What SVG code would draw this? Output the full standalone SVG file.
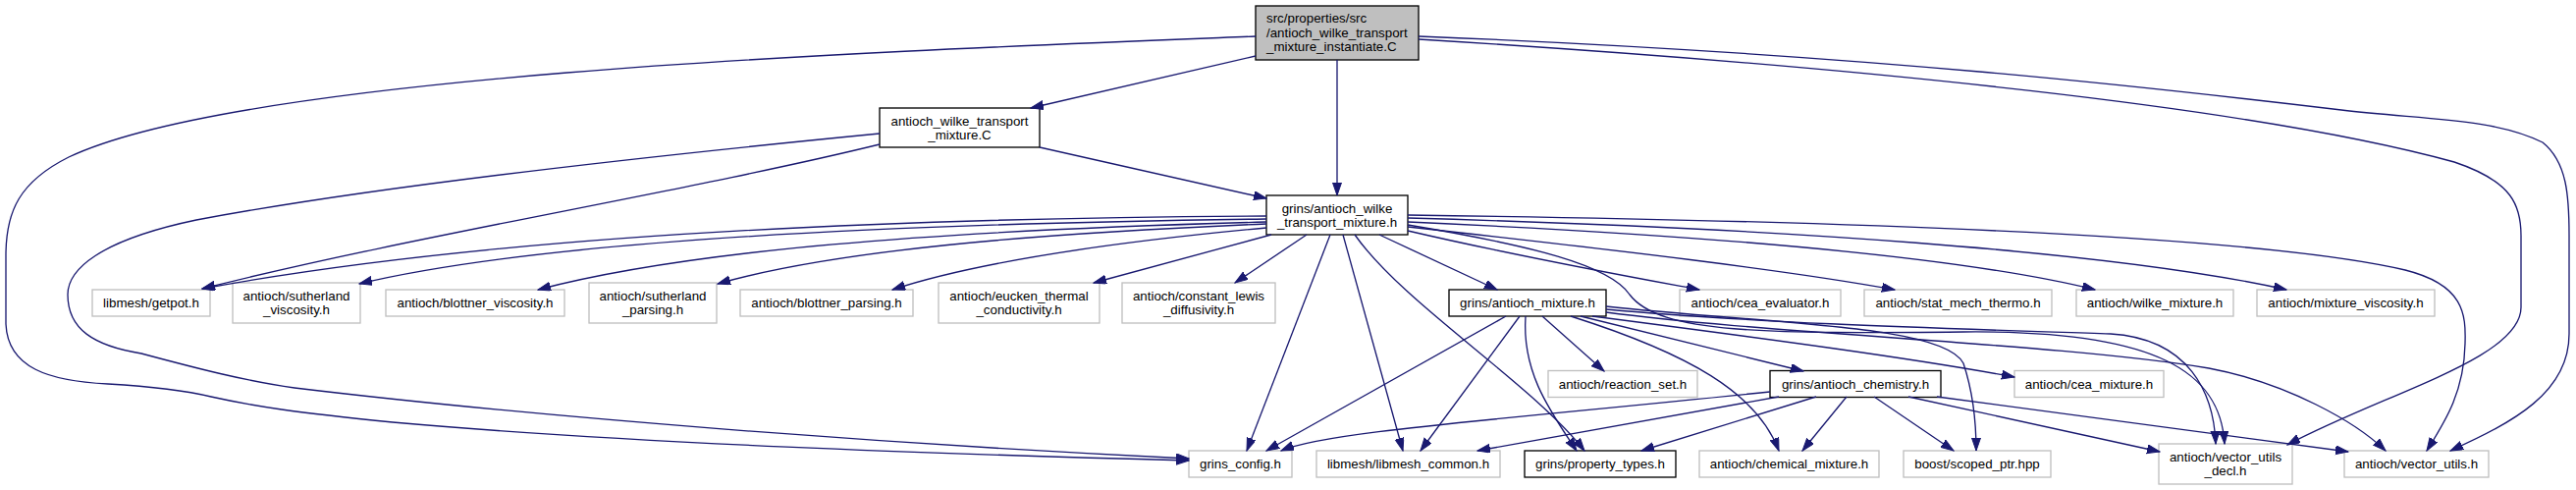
<svg xmlns="http://www.w3.org/2000/svg" width="2624" height="499" viewBox="0 0 2624 499">
<defs>
<style>
.n rect{fill:#fff;stroke:#bfbfbf;stroke-width:1.33}
.d rect{stroke:#000}
.r rect{fill:#bfbfbf;stroke:#000}
text{font-family:"Liberation Sans",Arial,Helvetica,sans-serif;font-size:13.33px;fill:#000;text-anchor:middle}
.l text{text-anchor:start}
#edges path{fill:none;stroke:#191970;stroke-width:1.33;marker-end:url(#ah)}
</style>
<marker id="ah" markerUnits="userSpaceOnUse" markerWidth="14" markerHeight="10" refX="13" refY="4.5" orient="auto">
<path d="M0,0 L13,4.5 L0,9 Z" fill="#191970" stroke="#191970" stroke-width="1"/>
</marker>
</defs>
<rect width="2624" height="499" fill="#fff"/>

<g id="n_root" class="n r l"><rect x="1279" y="6" width="166" height="55"/><text x="1290" y="23">src/properties/src</text><text x="1290" y="37.5">/antioch_wilke_transport</text><text x="1290" y="52">_mixture_instantiate.C</text></g>
<g id="n_awtm_C" class="n d"><rect x="896" y="110" width="163" height="40"/><text x="977.5" y="127.5">antioch_wilke_transport</text><text x="977.5" y="141.5">_mixture.C</text></g>
<g id="n_awtm_h" class="n d"><rect x="1290" y="199" width="144" height="40"/><text x="1362" y="216.5">grins/antioch_wilke</text><text x="1362" y="230.5">_transport_mixture.h</text></g>

<g id="n_getpot" class="n"><rect x="94" y="295" width="120" height="27"/><text x="154" y="313">libmesh/getpot.h</text></g>
<g id="n_suth_visc" class="n"><rect x="237" y="288" width="130" height="41"/><text x="302" y="306">antioch/sutherland</text><text x="302" y="320">_viscosity.h</text></g>
<g id="n_blot_visc" class="n"><rect x="393" y="295" width="182" height="27"/><text x="484" y="313">antioch/blottner_viscosity.h</text></g>
<g id="n_suth_pars" class="n"><rect x="600" y="288" width="130" height="41"/><text x="665" y="306">antioch/sutherland</text><text x="665" y="320">_parsing.h</text></g>
<g id="n_blot_pars" class="n"><rect x="754" y="295" width="176" height="27"/><text x="842" y="313">antioch/blottner_parsing.h</text></g>
<g id="n_eucken" class="n"><rect x="956" y="288" width="164" height="41"/><text x="1038" y="306">antioch/eucken_thermal</text><text x="1038" y="320">_conductivity.h</text></g>
<g id="n_lewis" class="n"><rect x="1143" y="288" width="156" height="41"/><text x="1221" y="306">antioch/constant_lewis</text><text x="1221" y="320">_diffusivity.h</text></g>
<g id="n_mixture" class="n d"><rect x="1476" y="295" width="160" height="27"/><text x="1556" y="313">grins/antioch_mixture.h</text></g>
<g id="n_cea_eval" class="n"><rect x="1711" y="295" width="164" height="27"/><text x="1793" y="313">antioch/cea_evaluator.h</text></g>
<g id="n_statmech" class="n"><rect x="1899" y="295" width="191" height="27"/><text x="1994.5" y="313">antioch/stat_mech_thermo.h</text></g>
<g id="n_wilke" class="n"><rect x="2115" y="295" width="160" height="27"/><text x="2195" y="313">antioch/wilke_mixture.h</text></g>
<g id="n_mixvisc" class="n"><rect x="2299" y="295" width="181" height="27"/><text x="2389.5" y="313">antioch/mixture_viscosity.h</text></g>

<g id="n_reaction" class="n"><rect x="1577" y="377.5" width="152" height="27"/><text x="1653" y="395.5">antioch/reaction_set.h</text></g>
<g id="n_chemistry" class="n d"><rect x="1803" y="377.5" width="174" height="27"/><text x="1890" y="395.5">grins/antioch_chemistry.h</text></g>
<g id="n_cea_mix" class="n"><rect x="2052" y="377.5" width="152" height="27"/><text x="2128" y="395.5">antioch/cea_mixture.h</text></g>

<g id="n_config" class="n"><rect x="1211" y="459" width="105" height="27"/><text x="1263.5" y="477">grins_config.h</text></g>
<g id="n_common" class="n"><rect x="1341" y="459" width="187" height="27"/><text x="1434.5" y="477">libmesh/libmesh_common.h</text></g>
<g id="n_proptypes" class="n d"><rect x="1553" y="459" width="154" height="27"/><text x="1630" y="477">grins/property_types.h</text></g>
<g id="n_chemmix" class="n"><rect x="1731" y="459" width="183" height="27"/><text x="1822.5" y="477">antioch/chemical_mixture.h</text></g>
<g id="n_scoped" class="n"><rect x="1939" y="459" width="150" height="27"/><text x="2014" y="477">boost/scoped_ptr.hpp</text></g>
<g id="n_vudecl" class="n"><rect x="2199" y="452" width="136" height="41"/><text x="2267" y="470">antioch/vector_utils</text><text x="2267" y="484">_decl.h</text></g>
<g id="n_vu" class="n"><rect x="2388" y="459" width="147" height="27"/><text x="2461.5" y="477">antioch/vector_utils.h</text></g>

<g id="edges">
<path d="M1279,57 L1050,110"/>
<path d="M1362,61 L1362,199"/>
<path d="M1279,37 C900,52 250,75 70,160 C20,185 6,215 6,260 L6,330 C8,375 50,388 110,391 C160,394 190,398 215,404 C260,414 300,420 400,430 C650,452 950,462 1211,469"/>
<path d="M1445,40 C1900,68 2300,110 2500,165 C2560,185 2568,210 2568,240 L2568,313 C2568,365 2430,400 2330,453"/>
<path d="M1445,37 C1900,55 2200,90 2385,112 C2470,122 2540,120 2590,145 C2615,165 2617,200 2617,240 L2617,340 C2617,400 2560,430 2496,459"/>

<path d="M1059,150 L1290,202"/>
<path d="M896,147 C700,195 420,240 206,294"/>
<path d="M896,136 C650,160 380,190 200,224 C100,245 69,275 69,300 C69,335 95,352 144,360 C200,375 250,388 300,395 C550,425 900,452 1211,467"/>

<path d="M1290,220 C900,222 500,240 206,294"/>
<path d="M1290,223 C900,228 550,245 366,289"/>
<path d="M1290,226 C950,235 700,255 548,295"/>
<path d="M1290,228 C1050,238 850,255 731,289"/>
<path d="M1290,232 C1150,245 1000,265 909,295"/>
<path d="M1295,239 L1114,288"/>
<path d="M1331,239 L1258,288"/>
<path d="M1355,239 L1270,459"/>
<path d="M1368,239 L1429,459"/>
<path d="M1380,239 C1430,310 1560,390 1614,459"/>
<path d="M1405,239 L1525,295"/>
<path d="M1434,235 C1550,262 1650,280 1731,295"/>
<path d="M1434,231 C1650,255 1820,275 1930,295"/>
<path d="M1434,226 C1750,240 2000,262 2134,295"/>
<path d="M1434,222 C1800,232 2150,255 2329,295"/>
<path d="M1434,219 C1900,225 2300,240 2450,275 C2510,290 2512,320 2511,350 C2510,400 2490,430 2472,459"/>
<path d="M1434,229 C1560,250 1640,270 1660,300 C1690,340 1800,340 2000,338 C2200,336 2262,380 2266,452"/>

<path d="M1534,322 L1290,459"/>
<path d="M1548,322 L1447,459"/>
<path d="M1554,322 C1550,380 1580,420 1606,459"/>
<path d="M1571,322 L1634,378"/>
<path d="M1600,322 C1720,360 1790,400 1812,459"/>
<path d="M1610,322 L1837,378"/>
<path d="M1622,322 C1800,345 1950,365 2052,384"/>
<path d="M1636,312 C1800,330 1980,330 2000,370 C2010,400 2013,430 2013,459"/>
<path d="M1636,315 C1800,330 2000,335 2150,340 C2230,345 2255,400 2257,452"/>
<path d="M1636,318 C1800,340 2100,350 2250,375 C2330,390 2400,430 2430,459"/>

<path d="M1803,399 C1500,430 1350,440 1305,459"/>
<path d="M1812,404 L1505,459"/>
<path d="M1850,404 L1672,459"/>
<path d="M1881,404 L1836,459"/>
<path d="M1909,404 L1990,459"/>
<path d="M1944,404 L2200,460"/>
<path d="M1973,404 L2392,460"/>
</g>
</svg>
